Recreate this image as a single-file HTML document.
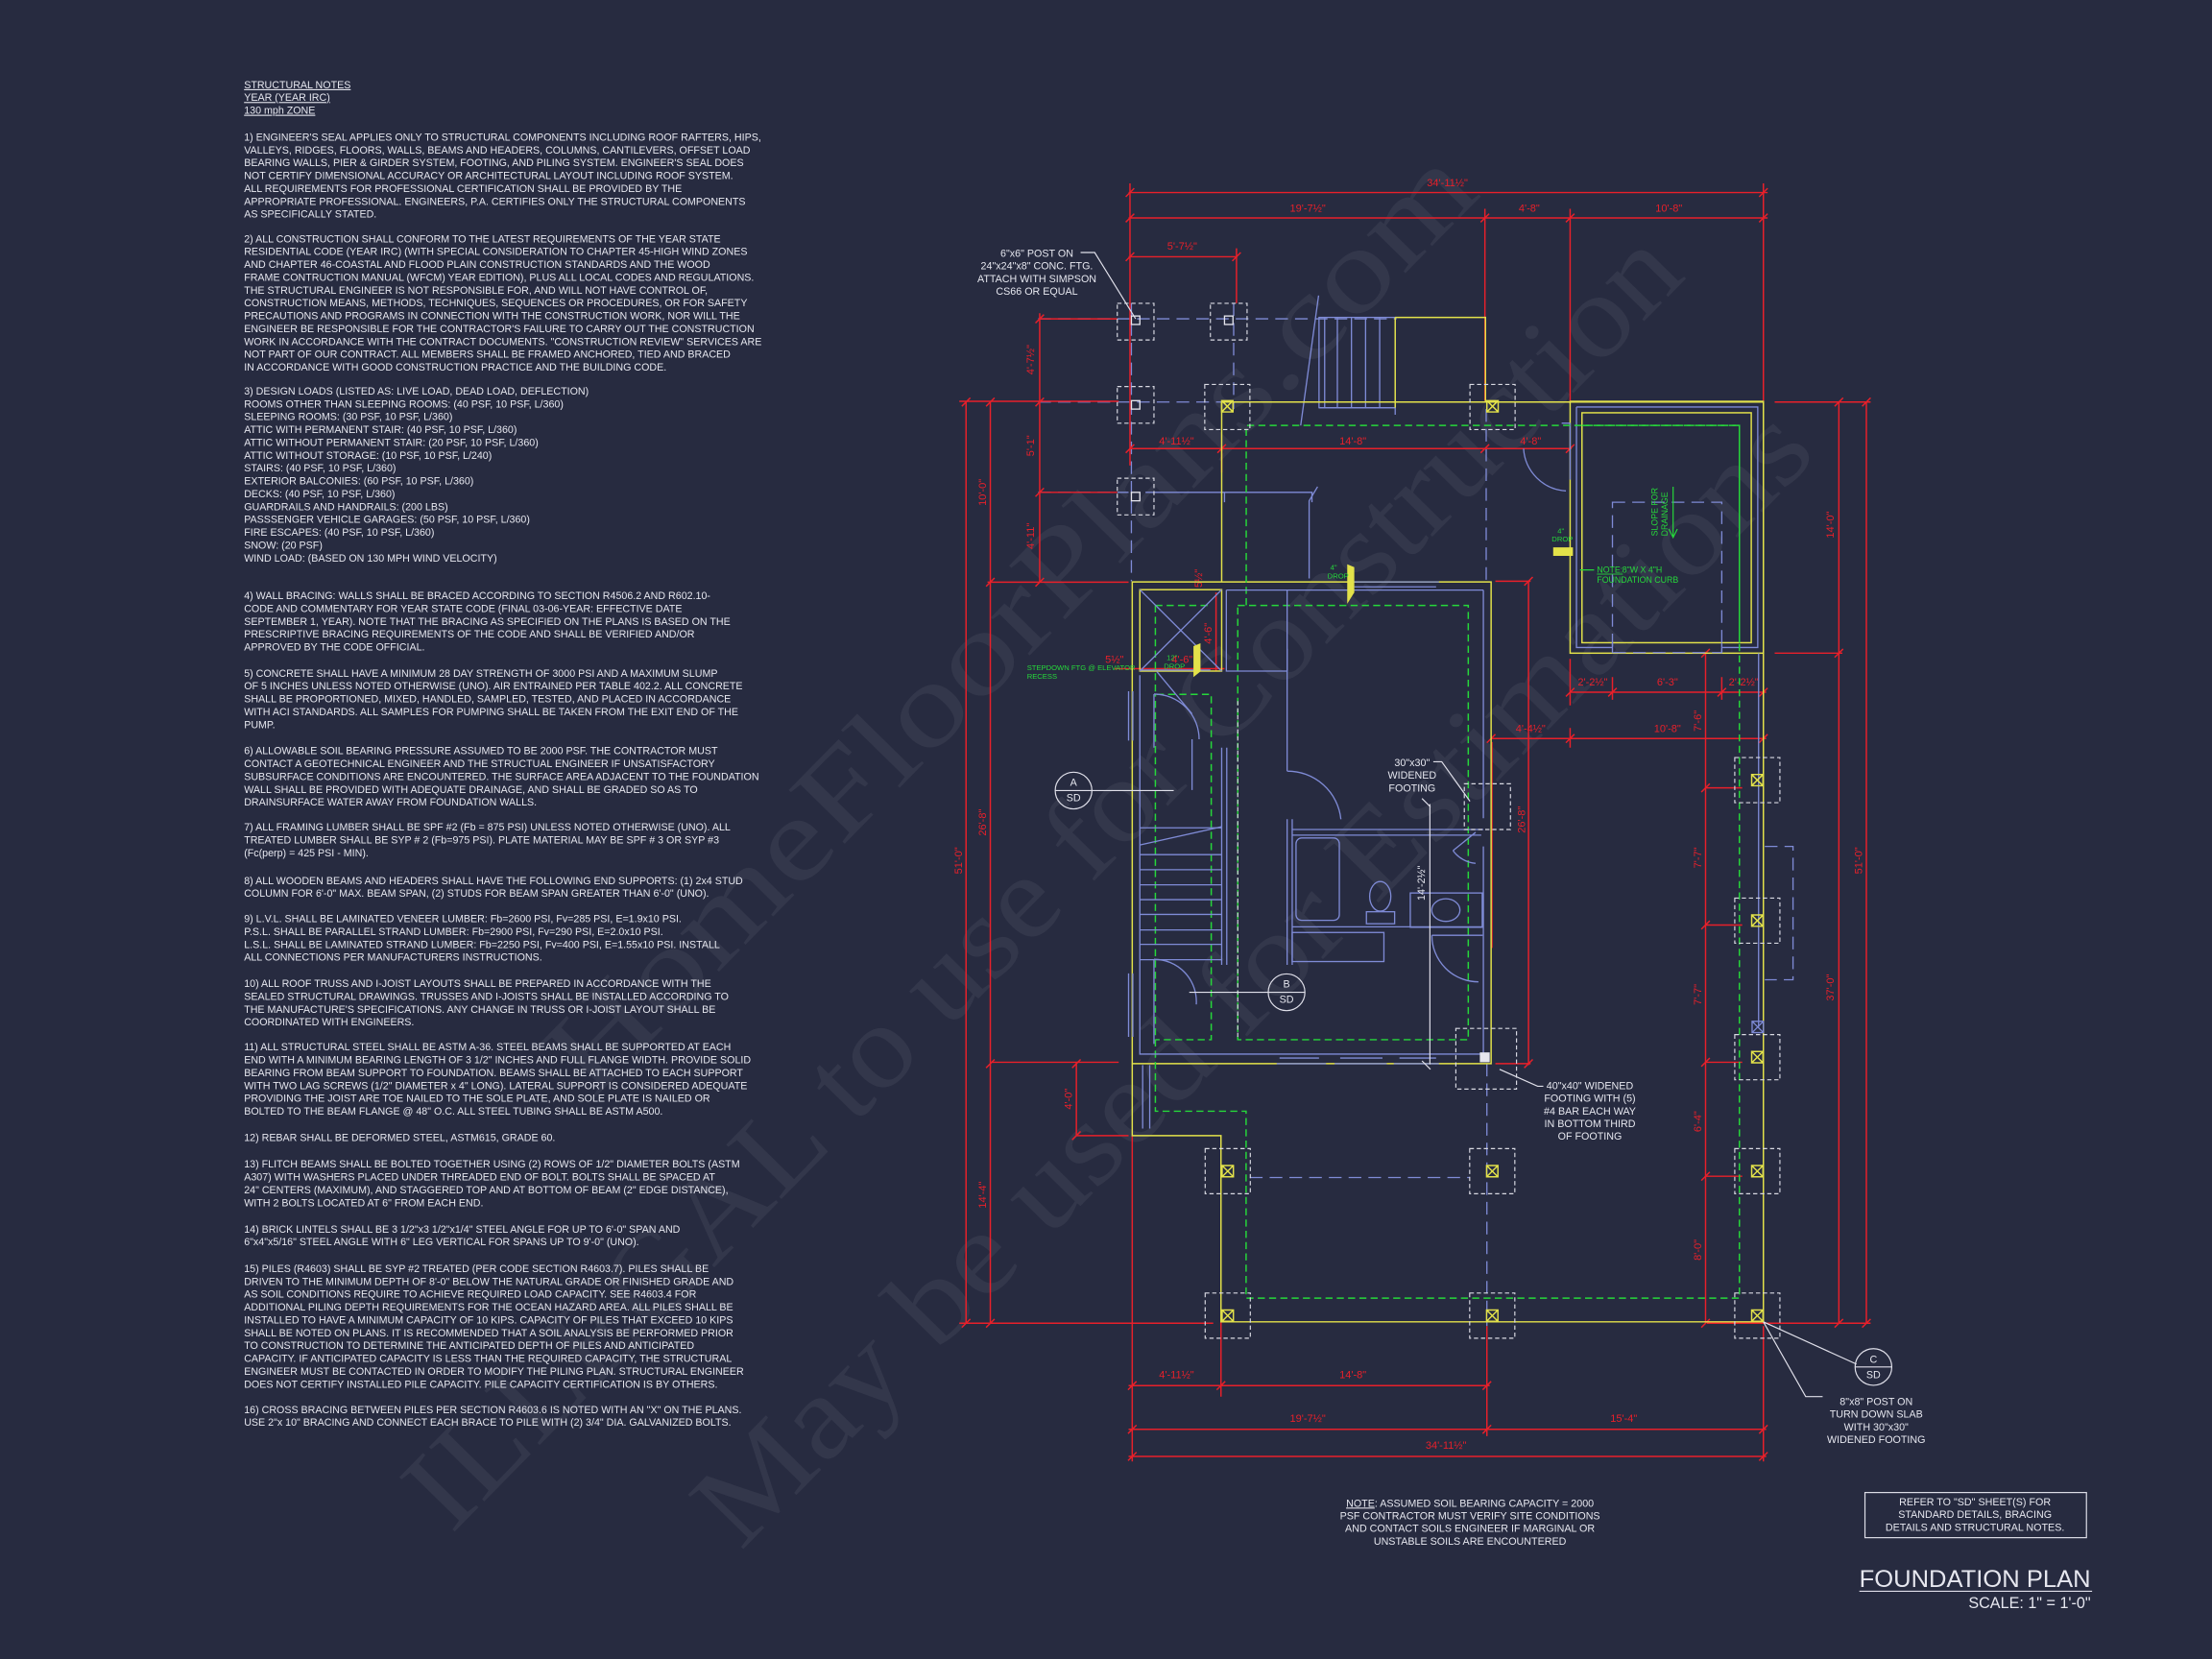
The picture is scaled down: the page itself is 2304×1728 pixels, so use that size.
<!DOCTYPE html>
<html><head><meta charset="utf-8"><style>
html,body{margin:0;padding:0;background:#272b40;}
svg{display:block;}
.n{font-family:"Liberation Sans",sans-serif;font-size:7.5px;fill:#e6e7ef;}
.r{stroke:#e8202a;stroke-width:1;fill:none;}
.y{stroke:#e3e24a;stroke-width:1;fill:none;}
.g{stroke:#26d83a;stroke-width:1;stroke-dasharray:5 3;fill:none;}
.b{stroke:#7f8bd6;stroke-width:0.9;fill:none;}
.bd{stroke:#7f8bd6;stroke-width:0.9;fill:none;stroke-dasharray:9 5;}
.wd{stroke:#d8d9e2;stroke-width:0.8;fill:none;stroke-dasharray:3 2;}
.w{stroke:#e0e0ea;stroke-width:0.8;fill:none;}
.rt{font-family:"Liberation Sans",sans-serif;font-size:7.5px;fill:#e8202a;}
.wt{font-family:"Liberation Sans",sans-serif;font-size:7.3px;fill:#e6e7ef;}
.gt{font-family:"Liberation Sans",sans-serif;font-size:5.2px;fill:#26d83a;}
.wm{font-family:"Liberation Serif",serif;font-size:84px;fill:#ffffff;fill-opacity:0.06;}
</style></head><body>
<svg width="2304" height="1728" viewBox="0 0 1568 1176" preserveAspectRatio="none" xmlns="http://www.w3.org/2000/svg">
<rect width="1568" height="1176" fill="#272b40"/>

<!-- watermark -->
<g transform="translate(420,780) rotate(-45.5)"><text class="wm" x="0" y="0" textLength="900" lengthAdjust="spacingAndGlyphs">HomeFloorPlans.com</text></g>
<g transform="translate(320,1088) rotate(-45.5)"><text class="wm" x="0" y="0" textLength="1250" lengthAdjust="spacingAndGlyphs">ILLEGAL to use for Construction</text></g>
<g transform="translate(525,1100) rotate(-45.5)"><text class="wm" x="0" y="0" textLength="1090" lengthAdjust="spacingAndGlyphs">May be used for Estimations</text></g>

<!-- NOTES -->
<g transform="translate(173,0) scale(0.97,1)">
<text class="n" y="62.5"><tspan x="0" text-decoration="underline">STRUCTURAL NOTES</tspan><tspan x="0" dy="9.1" text-decoration="underline">YEAR  (YEAR IRC)</tspan><tspan x="0" dy="9.1" text-decoration="underline">130 mph ZONE</tspan></text>
<text class="n" y="99.7"><tspan x="0">1) ENGINEER'S SEAL APPLIES ONLY TO STRUCTURAL COMPONENTS INCLUDING ROOF RAFTERS, HIPS,</tspan><tspan x="0" dy="9.1">VALLEYS, RIDGES, FLOORS, WALLS, BEAMS AND HEADERS, COLUMNS, CANTILEVERS, OFFSET LOAD</tspan><tspan x="0" dy="9.1">BEARING WALLS, PIER &amp; GIRDER SYSTEM, FOOTING, AND PILING SYSTEM.  ENGINEER'S SEAL DOES</tspan><tspan x="0" dy="9.1">NOT CERTIFY DIMENSIONAL ACCURACY OR ARCHITECTURAL LAYOUT INCLUDING ROOF SYSTEM.</tspan><tspan x="0" dy="9.1">ALL REQUIREMENTS FOR PROFESSIONAL CERTIFICATION SHALL BE PROVIDED BY THE</tspan><tspan x="0" dy="9.1">APPROPRIATE PROFESSIONAL.  ENGINEERS, P.A. CERTIFIES ONLY THE STRUCTURAL COMPONENTS</tspan><tspan x="0" dy="9.1">AS SPECIFICALLY STATED.</tspan></text>
<text class="n" y="171.7"><tspan x="0">2) ALL CONSTRUCTION SHALL CONFORM TO THE LATEST REQUIREMENTS OF THE YEAR STATE</tspan><tspan x="0" dy="9.1">RESIDENTIAL CODE (YEAR IRC) (WITH SPECIAL CONSIDERATION TO CHAPTER 45-HIGH WIND ZONES</tspan><tspan x="0" dy="9.1">AND CHAPTER 46-COASTAL AND FLOOD PLAIN CONSTRUCTION STANDARDS AND THE WOOD</tspan><tspan x="0" dy="9.1">FRAME CONTRUCTION MANUAL (WFCM) YEAR EDITION), PLUS ALL LOCAL CODES AND REGULATIONS.</tspan><tspan x="0" dy="9.1">THE STRUCTURAL ENGINEER IS NOT RESPONSIBLE FOR, AND WILL NOT HAVE CONTROL OF,</tspan><tspan x="0" dy="9.1">CONSTRUCTION MEANS, METHODS, TECHNIQUES, SEQUENCES OR PROCEDURES, OR FOR SAFETY</tspan><tspan x="0" dy="9.1">PRECAUTIONS AND PROGRAMS IN CONNECTION WITH THE CONSTRUCTION WORK, NOR WILL THE</tspan><tspan x="0" dy="9.1">ENGINEER BE RESPONSIBLE FOR THE CONTRACTOR'S FAILURE TO CARRY OUT THE CONSTRUCTION</tspan><tspan x="0" dy="9.1">WORK IN ACCORDANCE WITH THE CONTRACT DOCUMENTS. "CONSTRUCTION REVIEW" SERVICES ARE</tspan><tspan x="0" dy="9.1">NOT PART OF OUR CONTRACT. ALL MEMBERS SHALL BE FRAMED ANCHORED, TIED AND BRACED</tspan><tspan x="0" dy="9.1">IN ACCORDANCE WITH GOOD CONSTRUCTION PRACTICE AND THE BUILDING CODE.</tspan></text>
<text class="n" y="279.7"><tspan x="0">3) DESIGN LOADS (LISTED AS: LIVE LOAD, DEAD LOAD, DEFLECTION)</tspan><tspan x="0" dy="9.1">ROOMS OTHER THAN SLEEPING ROOMS: (40 PSF, 10 PSF, L/360)</tspan><tspan x="0" dy="9.1">SLEEPING ROOMS: (30 PSF, 10 PSF, L/360)</tspan><tspan x="0" dy="9.1">ATTIC WITH PERMANENT STAIR: (40 PSF, 10 PSF, L/360)</tspan><tspan x="0" dy="9.1">ATTIC WITHOUT PERMANENT STAIR: (20 PSF, 10 PSF, L/360)</tspan><tspan x="0" dy="9.1">ATTIC WITHOUT STORAGE: (10 PSF, 10 PSF, L/240)</tspan><tspan x="0" dy="9.1">STAIRS: (40 PSF, 10 PSF, L/360)</tspan><tspan x="0" dy="9.1">EXTERIOR BALCONIES: (60 PSF, 10 PSF, L/360)</tspan><tspan x="0" dy="9.1">DECKS: (40 PSF, 10 PSF, L/360)</tspan><tspan x="0" dy="9.1">GUARDRAILS AND HANDRAILS: (200 LBS)</tspan><tspan x="0" dy="9.1">PASSSENGER VEHICLE GARAGES: (50 PSF, 10 PSF, L/360)</tspan><tspan x="0" dy="9.1">FIRE ESCAPES: (40 PSF, 10 PSF, L/360)</tspan><tspan x="0" dy="9.1">SNOW: (20 PSF)</tspan><tspan x="0" dy="9.1">WIND LOAD: (BASED ON 130 MPH WIND VELOCITY)</tspan></text>
<text class="n" y="424.7"><tspan x="0">4) WALL BRACING: WALLS SHALL BE BRACED ACCORDING TO SECTION R4506.2 AND R602.10-</tspan><tspan x="0" dy="9.1">CODE AND COMMENTARY FOR YEAR STATE CODE (FINAL 03-06-YEAR: EFFECTIVE DATE</tspan><tspan x="0" dy="9.1">SEPTEMBER 1, YEAR). NOTE THAT THE BRACING AS SPECIFIED ON THE PLANS IS BASED ON THE</tspan><tspan x="0" dy="9.1">PRESCRIPTIVE BRACING REQUIREMENTS OF THE CODE AND SHALL BE VERIFIED AND/OR</tspan><tspan x="0" dy="9.1">APPROVED BY THE CODE OFFICIAL.</tspan></text>
<text class="n" y="479.7"><tspan x="0">5) CONCRETE SHALL HAVE A MINIMUM 28 DAY STRENGTH OF 3000 PSI AND A MAXIMUM SLUMP</tspan><tspan x="0" dy="9.1">OF 5 INCHES UNLESS NOTED OTHERWISE (UNO). AIR ENTRAINED PER TABLE 402.2. ALL CONCRETE</tspan><tspan x="0" dy="9.1">SHALL BE PROPORTIONED, MIXED, HANDLED, SAMPLED, TESTED, AND PLACED IN ACCORDANCE</tspan><tspan x="0" dy="9.1">WITH ACI STANDARDS. ALL SAMPLES FOR PUMPING SHALL BE TAKEN FROM THE EXIT END OF THE</tspan><tspan x="0" dy="9.1">PUMP.</tspan></text>
<text class="n" y="534.7"><tspan x="0">6) ALLOWABLE SOIL BEARING PRESSURE ASSUMED TO BE 2000 PSF. THE CONTRACTOR MUST</tspan><tspan x="0" dy="9.1">CONTACT A GEOTECHNICAL ENGINEER AND THE STRUCTUAL ENGINEER IF UNSATISFACTORY</tspan><tspan x="0" dy="9.1">SUBSURFACE CONDITIONS ARE ENCOUNTERED. THE SURFACE AREA ADJACENT TO THE FOUNDATION</tspan><tspan x="0" dy="9.1">WALL SHALL BE PROVIDED WITH ADEQUATE DRAINAGE, AND SHALL BE GRADED SO AS TO</tspan><tspan x="0" dy="9.1">DRAINSURFACE WATER AWAY FROM FOUNDATION WALLS.</tspan></text>
<text class="n" y="588.7"><tspan x="0">7) ALL FRAMING LUMBER SHALL BE SPF #2 (Fb = 875 PSI) UNLESS NOTED OTHERWISE (UNO). ALL</tspan><tspan x="0" dy="9.1">TREATED LUMBER SHALL BE SYP # 2 (Fb=975 PSI). PLATE MATERIAL MAY BE SPF # 3 OR SYP #3</tspan><tspan x="0" dy="9.1">(Fc(perp) = 425 PSI - MIN).</tspan></text>
<text class="n" y="626.7"><tspan x="0">8) ALL WOODEN BEAMS AND HEADERS SHALL HAVE THE FOLLOWING END SUPPORTS: (1) 2x4 STUD</tspan><tspan x="0" dy="9.1">COLUMN FOR 6'-0" MAX. BEAM SPAN, (2) STUDS FOR BEAM SPAN GREATER THAN 6'-0" (UNO).</tspan></text>
<text class="n" y="653.7"><tspan x="0">9) L.V.L.  SHALL BE LAMINATED VENEER LUMBER: Fb=2600 PSI, Fv=285 PSI, E=1.9x10   PSI.</tspan><tspan x="0" dy="9.1">P.S.L.  SHALL BE PARALLEL STRAND LUMBER: Fb=2900 PSI, Fv=290 PSI, E=2.0x10   PSI.</tspan><tspan x="0" dy="9.1">L.S.L.  SHALL BE LAMINATED STRAND LUMBER: Fb=2250 PSI, Fv=400 PSI, E=1.55x10   PSI. INSTALL</tspan><tspan x="0" dy="9.1">ALL CONNECTIONS PER MANUFACTURERS INSTRUCTIONS.</tspan></text>
<text class="n" y="699.7"><tspan x="0">10) ALL ROOF TRUSS AND I-JOIST LAYOUTS SHALL BE PREPARED IN ACCORDANCE WITH THE</tspan><tspan x="0" dy="9.1">SEALED STRUCTURAL DRAWINGS. TRUSSES AND I-JOISTS SHALL BE INSTALLED ACCORDING TO</tspan><tspan x="0" dy="9.1">THE MANUFACTURE'S SPECIFICATIONS. ANY CHANGE IN TRUSS OR I-JOIST LAYOUT SHALL BE</tspan><tspan x="0" dy="9.1">COORDINATED WITH  ENGINEERS.</tspan></text>
<text class="n" y="744.7"><tspan x="0">11) ALL STRUCTURAL STEEL SHALL BE ASTM A-36. STEEL BEAMS SHALL BE SUPPORTED AT EACH</tspan><tspan x="0" dy="9.1">END WITH A MINIMUM BEARING LENGTH OF 3 1/2" INCHES AND FULL FLANGE WIDTH. PROVIDE SOLID</tspan><tspan x="0" dy="9.1">BEARING FROM BEAM SUPPORT TO FOUNDATION.  BEAMS SHALL BE ATTACHED TO EACH SUPPORT</tspan><tspan x="0" dy="9.1">WITH TWO LAG SCREWS (1/2" DIAMETER x 4" LONG). LATERAL SUPPORT IS CONSIDERED ADEQUATE</tspan><tspan x="0" dy="9.1">PROVIDING THE JOIST ARE TOE NAILED TO THE SOLE PLATE, AND SOLE PLATE IS NAILED OR</tspan><tspan x="0" dy="9.1">BOLTED TO THE BEAM FLANGE @ 48" O.C. ALL STEEL TUBING SHALL BE ASTM A500.</tspan></text>
<text class="n" y="808.7"><tspan x="0">12) REBAR SHALL BE DEFORMED STEEL, ASTM615, GRADE 60.</tspan></text>
<text class="n" y="827.7"><tspan x="0">13) FLITCH BEAMS SHALL BE BOLTED TOGETHER USING (2) ROWS OF 1/2" DIAMETER BOLTS (ASTM</tspan><tspan x="0" dy="9.1">A307) WITH WASHERS PLACED UNDER THREADED END OF BOLT.  BOLTS SHALL BE SPACED AT</tspan><tspan x="0" dy="9.1">24" CENTERS (MAXIMUM), AND STAGGERED TOP AND AT BOTTOM OF BEAM (2" EDGE DISTANCE),</tspan><tspan x="0" dy="9.1">WITH 2 BOLTS LOCATED AT 6" FROM EACH END.</tspan></text>
<text class="n" y="873.7"><tspan x="0">14) BRICK LINTELS SHALL BE 3 1/2"x3 1/2"x1/4" STEEL ANGLE FOR UP TO 6'-0" SPAN AND</tspan><tspan x="0" dy="9.1">6"x4"x5/16" STEEL ANGLE WITH 6" LEG VERTICAL FOR SPANS UP TO 9'-0" (UNO).</tspan></text>
<text class="n" y="901.7"><tspan x="0">15) PILES (R4603) SHALL BE SYP #2 TREATED (PER CODE SECTION R4603.7). PILES SHALL BE</tspan><tspan x="0" dy="9.1">DRIVEN TO THE MINIMUM DEPTH OF 8'-0" BELOW THE NATURAL GRADE OR FINISHED GRADE AND</tspan><tspan x="0" dy="9.1">AS SOIL CONDITIONS REQUIRE TO ACHIEVE REQUIRED LOAD CAPACITY. SEE R4603.4 FOR</tspan><tspan x="0" dy="9.1">ADDITIONAL PILING DEPTH REQUIREMENTS FOR THE OCEAN HAZARD AREA. ALL PILES SHALL BE</tspan><tspan x="0" dy="9.1">INSTALLED TO HAVE A MINIMUM CAPACITY OF 10 KIPS. CAPACITY OF PILES THAT EXCEED 10 KIPS</tspan><tspan x="0" dy="9.1">SHALL BE NOTED ON PLANS. IT IS RECOMMENDED THAT A SOIL ANALYSIS BE PERFORMED PRIOR</tspan><tspan x="0" dy="9.1">TO CONSTRUCTION TO DETERMINE THE ANTICIPATED DEPTH OF PILES AND ANTICIPATED</tspan><tspan x="0" dy="9.1">CAPACITY. IF ANTICIPATED CAPACITY IS LESS THAN THE REQUIRED CAPACITY, THE STRUCTURAL</tspan><tspan x="0" dy="9.1">ENGINEER MUST BE CONTACTED IN ORDER TO MODIFY THE PILING PLAN. STRUCTURAL ENGINEER</tspan><tspan x="0" dy="9.1">DOES NOT CERTIFY INSTALLED PILE CAPACITY. PILE CAPACITY CERTIFICATION IS BY OTHERS.</tspan></text>
<text class="n" y="1001.7"><tspan x="0">16) CROSS BRACING BETWEEN PILES PER SECTION R4603.6 IS NOTED WITH AN "X" ON THE PLANS.</tspan><tspan x="0" dy="9.1">USE 2"x 10" BRACING AND CONNECT EACH BRACE TO PILE WITH (2) 3/4" DIA. GALVANIZED BOLTS.</tspan></text>
</g>

<!-- ============ PLAN ============ -->
<g class="bd">
<path d="M736 226 H990 M736 285 H1113 M736 349 H800 M886 834.7 H1042"/>
<path d="M802 215 V412 M874.5 215 V290 M1053.5 290 V412 M1054 754 V940"/>
</g>
<path class="b" d="M812 349 H930 V356 M868 349 V356"/>

<g class="r">
<path d="M800 136.5 H1253 M800 154.5 H1253 M800 182 H877"/>
<path d="M801 130 V330 M1052.6 148 V284 M1113 148 V284 M1250 130 V284 M876.5 176 V215"/>
<path d="M737 222 V413 M702 284.5 V938 M684.8 284.5 V938 M763 753 V805"/>
<path d="M680 284.5 H793 M700 412.7 H800 M737 226 H792 M737 349 H792 M703 753 H793 M763 805 H800 M680 938 H860"/>
<path d="M801 318 H1114 M866 316 V335"/>
<path d="M1258 285 H1326 M1258 463 H1306 M1303.5 285 V938 M1323 285 V938 M1210 938 H1326"/>
<path d="M1209 462 V938 M1209 558.5 H1235 M1209 655.7 H1235 M1209 753 H1235 M1209 833.8 H1235"/>
<path d="M1113 467 V500 M1143 480 V496 M1220.5 480 V496 M1250 467 V500 M1113 490.7 H1252"/>
<path d="M1057 523.5 H1252 M1113 516 V530 M1060 412 H1085 M1083.5 412 V755 M1060 754 H1085 M1057.6 526 V672"/>
<path d="M802.6 805 V1036 M865.5 937 V990 M1054 940 V1018 M1250 940 V1036"/>
<path d="M800 982.2 H1056 M800 1013.2 H1252 M800 1032.4 H1252"/>
<path d="M790 474 H868 M862 420 V476"/>
</g>
<g class="r" stroke-width="1.2">
<path d="M798 139.5 l6 -6 M1247 139.5 l6 -6 M798 157.5 l6 -6 M1049.6 157.5 l6 -6 M1110 157.5 l6 -6 M1247 157.5 l6 -6 M798 185 l6 -6 M873.5 185 l6 -6"/>
<path d="M734 229 l6 -6 M734 288 l6 -6 M734 352 l6 -6 M734 415.7 l6 -6 M699 288 l6 -6 M699 415.7 l6 -6 M699 757 l6 -6 M699 941 l6 -6 M681.8 288 l6 -6 M681.8 941 l6 -6 M760 757 l6 -6 M760 808 l6 -6"/>
<path d="M798 321 l6 -6 M863 321 l6 -6 M1049.6 321 l6 -6 M1110 321 l6 -6"/>
<path d="M1300.5 288 l6 -6 M1300.5 466 l6 -6 M1300.5 941 l6 -6 M1320 288 l6 -6 M1320 941 l6 -6"/>
<path d="M1206 466 l6 -6 M1206 561.5 l6 -6 M1206 658.7 l6 -6 M1206 756 l6 -6 M1206 836.8 l6 -6 M1206 941 l6 -6"/>
<path d="M1110 493.7 l6 -6 M1140 493.7 l6 -6 M1217.5 493.7 l6 -6 M1247 493.7 l6 -6 M1054 526.5 l6 -6 M1110 526.5 l6 -6 M1247 526.5 l6 -6 M1080.5 415 l6 -6 M1080.5 757 l6 -6"/>
<path d="M799.6 985.2 l6 -6 M862.5 985.2 l6 -6 M1051 985.2 l6 -6 M799.6 1016.2 l6 -6 M1051 1016.2 l6 -6 M1247 1016.2 l6 -6 M799.6 1035.4 l6 -6 M1247 1035.4 l6 -6"/>
</g>
<g class="rt" text-anchor="middle">
<text x="1026" y="132">34'-11½"</text>
<text x="927" y="150">19'-7½"</text>
<text x="1084" y="150">4'-8"</text>
<text x="1183" y="150">10'-8"</text>
<text x="838" y="177">5'-7½"</text>
<text x="834" y="315">4'-11½"</text>
<text x="959" y="315">14'-8"</text>
<text x="1085" y="315">4'-8"</text>
<text x="1129" y="486">2'-2½"</text>
<text x="1182" y="486">6'-3"</text>
<text x="1236" y="486">2'-2½"</text>
<text x="1085" y="519">4'-4½"</text>
<text x="1182" y="519">10'-8"</text>
<text x="834" y="977">4'-11½"</text>
<text x="959" y="977">14'-8"</text>
<text x="927" y="1008">19'-7½"</text>
<text x="1151" y="1008">15'-4"</text>
<text x="1025" y="1027">34'-11½"</text>
<text x="838" y="470">4'-6"</text>
<text x="790" y="470">5½"</text>
<text transform="translate(733,255) rotate(-90)">4'-7½"</text>
<text transform="translate(733,316) rotate(-90)">5'-1"</text>
<text transform="translate(733,380) rotate(-90)">4'-11"</text>
<text transform="translate(699,349) rotate(-90)">10'-0"</text>
<text transform="translate(699,583) rotate(-90)">26'-8"</text>
<text transform="translate(699,847) rotate(-90)">14'-4"</text>
<text transform="translate(682,610) rotate(-90)">51'-0"</text>
<text transform="translate(760,779) rotate(-90)">4'-0"</text>
<text transform="translate(1300,372) rotate(-90)">14'-0"</text>
<text transform="translate(1300,700) rotate(-90)">37'-0"</text>
<text transform="translate(1320,610) rotate(-90)">51'-0"</text>
<text transform="translate(1206,511) rotate(-90)">7'-6"</text>
<text transform="translate(1206,608) rotate(-90)">7'-7"</text>
<text transform="translate(1206,705) rotate(-90)">7'-7"</text>
<text transform="translate(1206,795) rotate(-90)">6'-4"</text>
<text transform="translate(1206,886) rotate(-90)">8'-0"</text>
<text transform="translate(1081,581) rotate(-90)">26'-8"</text>
<text transform="translate(859,449) rotate(-90)">4'-6"</text>
<text transform="translate(852,410) rotate(-90)">5½"</text>
</g>

<g class="b">
<rect x="935" y="225" width="54" height="64"/>
<path d="M939 225 V289 M948 225 V289 M958 225 V289 M968 225 V289 M978 225 V289 M935 289 H989 V294"/>
<path d="M934.7 209.5 L922 301.6"/>
</g>
<g class="y">
<path d="M989 225 H1053 V285 M989 225 V289"/>
<path d="M866 285 H1250 V463 M866 285 V412.5 M802.6 412.5 H1057 V754 H802.6 Z"/>
<path d="M802.6 754 V805 H865.5 V937 H1250 V463"/>
<rect x="1113" y="284.5" width="137" height="178.5"/>
<rect x="1121.4" y="292.6" width="120" height="163"/>
<rect x="808" y="418" width="58" height="57.7"/>
</g>
<g class="b">
<path d="M1117.5 288.5 H1246 V459 H1221 M1117.5 288.5 V459 H1143"/>
<path d="M1143 455.7 V463 M1220.5 455.7 V463 M1113 300 V340 M1107 300 H1113"/>
<path d="M1080 318 A32 32 0 0 0 1110 348"/>
</g>
<rect class="bd" x="1143" y="356" width="77.5" height="106.6" stroke-dasharray="5 3"/>
<g class="b">
<path d="M1246.6 463 V728"/>
</g>
<path class="bd" d="M1251 600 H1271 V694.5 H1251" stroke-dasharray="6 4"/>

<g class="g">
<path d="M883.4 429 V301.6 H1233 V920.2 H883.3 V787.7 H819 V492.2 M1233 301.6 V455.7"/>
<path d="M1121.4 301.6 H1233"/>
<path d="M877.4 429.2 H1040.8 V737 H877.4 Z"/>
<path d="M819 429.2 H858.6 M819 429.2 V492.2 H858.6 V737 H819"/>
</g>

<g class="b">
<path d="M808 478.6 V747.2 H1051.5 V600 M1051.5 418.3 V580"/>
<path d="M869.3 418.3 H1051.5 M869.3 418.3 V475.7 H912.4 V418.3"/>
<path d="M912.4 460 V546.6 M912.4 546.6 A38 38 0 0 1 950.5 580.7 M916 580.7 V684 M912.4 580.7 V684"/>
<path d="M916 588 H1051.5 M916 592 H1050"/>
<rect x="918.7" y="594" width="30.7" height="58.4" rx="4"/>
<ellipse cx="978.4" cy="635.4" rx="7.5" ry="10.5"/>
<rect x="968.6" y="646.3" width="20" height="8.5"/>
<rect x="999.7" y="633" width="51" height="24.3"/>
<ellipse cx="1024.9" cy="645.1" rx="10" ry="8"/>
<rect x="916" y="661" width="65" height="20.6"/>
<path d="M916 657 H1051"/>
<path d="M808 586.8 H866 M808 605.8 H866 M808 616.5 H866 M808 627.2 H866 M808 637.7 H866 M808 648.2 H866 M808 659.2 H866 M808 669.4 H866 M808 680.3 H866 M866 530 V684 M869.6 530 V684"/>
<path d="M808 599 L866 586"/>
<path d="M818 492 A32 32 0 0 1 850 524 M818 492 V530 M845 524 V560"/>
<path d="M818 680 A30 30 0 0 1 848 712 M818 680 V740"/>
<path d="M1015 663 A33 33 0 0 0 1048 696 M1015 663 H1051"/>
<path d="M1030 603 L1046 590 M1030 603 A22 22 0 0 0 1046 612"/>
<path d="M820 476 L845 506 M808 475 H858"/>
<path d="M800 490 V525 M803 490 V525 M800 690 V735 M803 690 V735"/>
<path d="M905 754 H940 M946 754 H983 M988 754 H1020 M907 750 H935 M950 750 H980 M992 750 H1018"/>
<path d="M958 412.5 H1020 M960 416 H1018 M928 410 V355 L934 345"/>
<path d="M810 755 V800 M815 755 V800"/>
</g>
<path class="wd" d="M877.4 497 V737"/>
<path class="w" d="M1013.6 570 V754.5 M1008 566 l6 6 M1008 752 l6 6"/>
<text class="wt" transform="translate(1010,626) rotate(-90)" text-anchor="middle" font-size="7">14'-2½"</text>
<rect x="1049" y="746" width="7" height="7" fill="#e6e6ee"/>

<path class="b" d="M808 418 L866 475.7 M866 418 L808 475.7"/>

<g class="wd">
<rect x="792" y="215" width="26" height="26"/>
<rect x="858" y="215" width="26" height="26"/>
<rect x="792" y="274" width="26" height="26"/>
<rect x="792" y="339" width="26" height="26"/>
</g>
<g fill="none" stroke="#e6e6ee" stroke-width="0.9">
<rect x="802" y="224" width="6" height="6"/>
<rect x="868" y="224" width="6" height="6"/>
<rect x="802" y="284" width="6" height="6"/>
<rect x="802" y="349" width="6" height="6"/>
</g>
<g class="wd">
<rect x="854" y="272.5" width="32" height="32"/>
<rect x="1042" y="272.5" width="32" height="32"/>
<rect x="1229.7" y="537" width="32" height="32"/>
<rect x="1229.7" y="636.6" width="32" height="32"/>
<rect x="1229.7" y="733.4" width="32" height="32"/>
<rect x="854.3" y="814.2" width="32" height="32"/>
<rect x="1041.8" y="814.2" width="32" height="32"/>
<rect x="1229.7" y="814.2" width="32" height="32"/>
<rect x="854.3" y="916.6" width="32" height="32"/>
<rect x="1041.8" y="916.6" width="32" height="32"/>
<rect x="1229.7" y="916.6" width="32" height="32"/>
<rect x="1032" y="729" width="43" height="43"/>
<rect x="1038" y="555.6" width="32.7" height="32.4"/>
</g>
<g stroke="#e3e24a" stroke-width="1" fill="none">
<path d="M866 284 h8 v8 h-8 z l8 8 m0 -8 l-8 8"/>
<path d="M1054 284 h8 v8 h-8 z l8 8 m0 -8 l-8 8"/>
<path d="M1241.7 549 h8 v8 h-8 z l8 8 m0 -8 l-8 8"/>
<path d="M1241.7 648.6 h8 v8 h-8 z l8 8 m0 -8 l-8 8"/>
<path d="M1241.7 745.4 h8 v8 h-8 z l8 8 m0 -8 l-8 8"/>
<path d="M866.3 826.2 h8 v8 h-8 z l8 8 m0 -8 l-8 8"/>
<path d="M1053.8 826.2 h8 v8 h-8 z l8 8 m0 -8 l-8 8"/>
<path d="M1241.7 826.2 h8 v8 h-8 z l8 8 m0 -8 l-8 8"/>
<path d="M866.3 928.6 h8 v8 h-8 z l8 8 m0 -8 l-8 8"/>
<path d="M1053.8 928.6 h8 v8 h-8 z l8 8 m0 -8 l-8 8"/>
<path d="M1241.7 928.6 h8 v8 h-8 z l8 8 m0 -8 l-8 8"/>
</g>
<path class="b" d="M1242 724 h8 v8 h-8 z l8 8 m0 -8 l-8 8"/>

<g fill="#e3e24a">
<path d="M955 400 l5 2 v18 l-5 8 z"/>
<path d="M846 458 l5 -2 v20 l-5 4 z"/>
<path d="M1101 388 h14 v6 h-14 z"/>
</g>

<g class="gt">
<text x="728" y="475">STEPDOWN FTG @ ELEVATOR</text>
<text x="728" y="481">RECESS</text>
<text x="827" y="468">12"</text><text x="825" y="474">DROP</text>
<text x="943" y="404">4"</text><text x="941" y="410">DROP</text>
<text x="1104" y="378">4"</text><text x="1100" y="384">DROP</text>
<text x="1132" y="406" text-decoration="underline" font-size="6">NOTE:</text><text x="1150" y="406" font-size="6">8"W X 4"H</text>
<text x="1132" y="413" font-size="6">FOUNDATION CURB</text>
<text transform="translate(1175,380) rotate(-90)" font-size="6">SLOPE FOR</text>
<text transform="translate(1182,380) rotate(-90)" font-size="6">DRAINAGE</text>
</g>
<path d="M1186 345 V380 M1183 375 L1186 381 L1189 375 M1120 404 H1130" stroke="#26d83a" stroke-width="0.8" fill="none"/>

<g class="wt" text-anchor="middle">
<text x="735" y="182">6"x6" POST ON</text>
<text x="735" y="191">24"x24"x8" CONC. FTG.</text>
<text x="735" y="200">ATTACH WITH SIMPSON</text>
<text x="735" y="209">CS66 OR EQUAL</text>
<text x="1001" y="543">30"x30"</text>
<text x="1001" y="552">WIDENED</text>
<text x="1001" y="561">FOOTING</text>
<text x="1127" y="772">40"x40" WIDENED</text>
<text x="1127" y="781">FOOTING WITH (5)</text>
<text x="1127" y="790">#4 BAR EACH WAY</text>
<text x="1127" y="799">IN BOTTOM THIRD</text>
<text x="1127" y="808">OF FOOTING</text>
<text x="1330" y="996">8"x8" POST ON</text>
<text x="1330" y="1005">TURN DOWN SLAB</text>
<text x="1330" y="1014">WITH 30"x30"</text>
<text x="1330" y="1023">WIDENED FOOTING</text>
</g>
<g class="w">
<path d="M766 179 H776 L805 226"/>
<path d="M1016 540 H1022 L1042 568"/>
<path d="M1063 758 L1090 770 H1094"/>
<path d="M1250 937 L1316 967 M1250 937 L1280 990 H1292"/>
<circle cx="761" cy="560.4" r="13"/><path d="M748 560.4 H774 M774 560.4 H832"/>
<circle cx="912" cy="703.4" r="13"/><path d="M899 703.4 H925 M843 703.4 H899"/>
<circle cx="1328" cy="969" r="13"/><path d="M1315 969 H1341"/>
</g>
<g class="wt" text-anchor="middle" font-size="7.5">
<text x="761" y="557">A</text><text x="761" y="568">SD</text>
<text x="912" y="700">B</text><text x="912" y="711">SD</text>
<text x="1328" y="966">C</text><text x="1328" y="977">SD</text>
</g>

<g class="wt" text-anchor="middle" font-size="7.6">
<text x="1042" y="1068"><tspan text-decoration="underline">NOTE</tspan>: ASSUMED SOIL BEARING CAPACITY = 2000</text>
<text x="1042" y="1077">PSF CONTRACTOR MUST VERIFY SITE CONDITIONS</text>
<text x="1042" y="1086">AND CONTACT SOILS ENGINEER IF MARGINAL OR</text>
<text x="1042" y="1095">UNSTABLE SOILS ARE ENCOUNTERED</text>
<text x="1400" y="1067">REFER TO "SD"  SHEET(S) FOR</text>
<text x="1400" y="1076">STANDARD DETAILS, BRACING</text>
<text x="1400" y="1085">DETAILS AND STRUCTURAL NOTES.</text>
</g>
<rect x="1322" y="1058" width="157" height="32" fill="none" stroke="#e0e0ea" stroke-width="0.8"/>
<text x="1482" y="1125" text-anchor="end" font-family="Liberation Sans,sans-serif" font-size="17" fill="#e6e7ef" textLength="164" lengthAdjust="spacingAndGlyphs">FOUNDATION PLAN</text>
<path d="M1318 1128 H1483" stroke="#e0e0ea" stroke-width="0.8"/>
<text x="1482" y="1140" text-anchor="end" font-family="Liberation Sans,sans-serif" font-size="11" fill="#e6e7ef">SCALE: 1" = 1'-0"</text>
</svg>
</body></html>
